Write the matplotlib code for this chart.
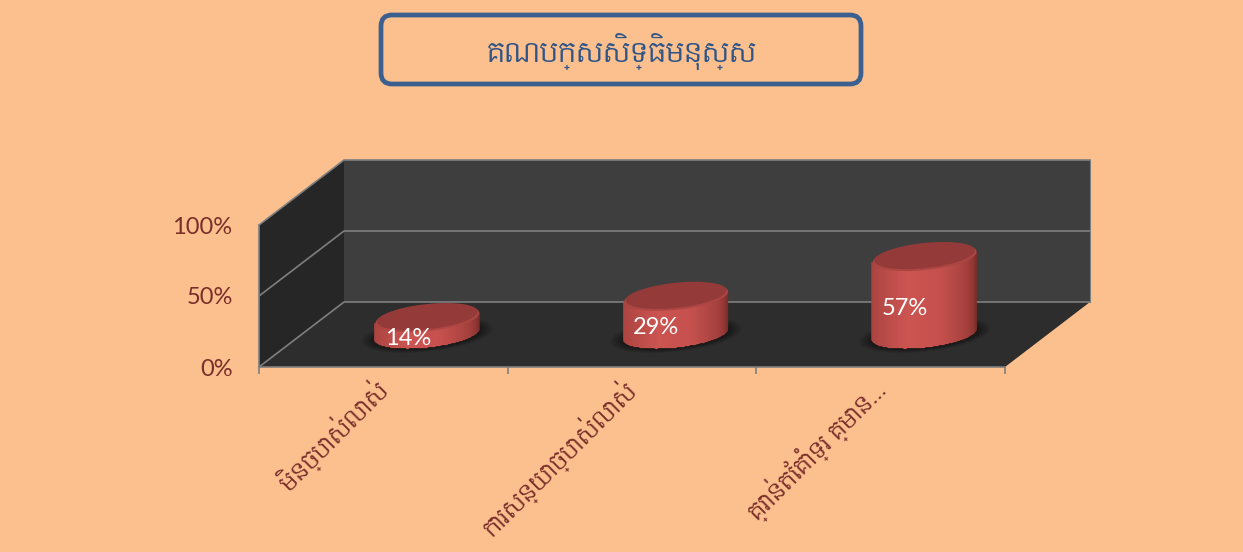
import numpy as np
import matplotlib
matplotlib.use('Agg')
import matplotlib.pyplot as plt
from matplotlib.colors import LinearSegmentedColormap
from matplotlib.patches import FancyBboxPatch
from matplotlib.transforms import IdentityTransform

title = 'គណបក្សសិទ្ធិមនុស្ស'
categories = ['មិនច្បាស់លាស់', 'ការសន្យាច្បាស់លាស់', 'គ្រាន់តែគាំទ្រ គ្មាន...']
values = [14, 29, 57]
y_ticks = [0, 50, 100]

plt.rcParams['font.family'] = ['Lato', 'DejaVu Sans']
KHMER = ['Content', 'DejaVu Sans']

W, H = 1243, 552
BG = '#FBC08E'
TEXT_RED = '#7A2E2A'
GRID = '#7F7F7F'

fig = plt.figure(figsize=(W / 100, H / 100), dpi=100, facecolor=BG)
# axes = front plane of the 3d box, in pixels from the reference
ax = fig.add_axes([259 / W, (H - 367) / H, 746 / W, 142 / H])
ax.set_xlim(-0.5, 2.5)
ax.set_ylim(0, 100)
ax.patch.set_visible(False)

# data units per pixel
px_x = 3 / 746
px_y = 100 / 142
depth_x = 85 * px_x
depth_y = 65 * px_y
x0, x1 = -0.5, 2.5

# walls and floor
ax.fill([x0, x0 + depth_x, x0 + depth_x, x0], [0, depth_y, 100 + depth_y, 100],
        color='#262626', clip_on=False, zorder=1, lw=0)
ax.fill([x0 + depth_x, x1 + depth_x, x1 + depth_x, x0 + depth_x],
        [depth_y, depth_y, 100 + depth_y, 100 + depth_y],
        color='#3E3E3E', clip_on=False, zorder=1, lw=0)
ax.fill([x0, x1, x1 + depth_x, x0 + depth_x], [0, 0, depth_y, depth_y],
        color='#2D2D2D', clip_on=False, zorder=1, lw=0)

# gridlines round the walls
for t in y_ticks:
    ax.plot([x0, x0 + depth_x, x1 + depth_x], [t, t + depth_y, t + depth_y],
            color=GRID, lw=1.2, clip_on=False, zorder=2)
ax.plot([x1 + depth_x, x1 + depth_x], [depth_y, 100 + depth_y], color=GRID, lw=0.8,
        clip_on=False, zorder=2)

# cylinders
body_cmap = LinearSegmentedColormap.from_list(
    'body', ['#A8423F', '#B54946', '#CC5451', '#C5504D', '#A5413E', '#7D2E2C'])
half_w = 52 * px_x
half_h = 13 * px_y
slope = 0.1 * (px_y / px_x)
lid_drop = 3 * px_y


def ell_y(dx, cy, sign, scale=1.0):
    inner = np.clip(1 - (dx / (half_w * scale)) ** 2, 0, 1)
    return cy + slope * dx + sign * half_h * scale * np.sqrt(inner)


for i, v in enumerate(values):
    cx = i + depth_x / 2 + 1 * px_x
    cy = depth_y / 2
    lid = cy + v - lid_drop

    # soft shadow on the floor
    for k in np.linspace(1.28, 1.0, 12):
        t = np.linspace(-half_w * k, half_w * k, 80)
        ax.fill_between(cx + t, ell_y(t, cy, -1, k), ell_y(t, cy, 1, k),
                        color='black', alpha=0.04, lw=0, zorder=3, clip_on=False)

    # side of the cylinder, shaded left to right
    t = half_w * np.sin(np.linspace(-np.pi / 2, np.pi / 2, 121))
    bottom = ell_y(t, cy, -1)
    top = ell_y(t, lid, -1)
    X = np.column_stack([cx + t, cx + t])
    Y = np.column_stack([bottom, top])
    C = np.linspace(0, 1, 120)[:, None]
    ax.pcolormesh(X, Y, C, cmap=body_cmap, shading='flat', zorder=4, clip_on=False,
                  rasterized=True, antialiased=True, edgecolors='face', linewidth=0.2)

    # lid with a lighter rim
    t = np.linspace(-half_w, half_w, 200)
    ax.fill_between(cx + t, ell_y(t, lid, -1), ell_y(t, lid, 1),
                    color='#AC4643', lw=0, zorder=5, clip_on=False)
    t2 = np.linspace(-half_w * 0.97, half_w * 0.97, 200)
    ax.fill_between(cx + t2, ell_y(t2, lid + 1.5 * px_y, -1, 0.97), ell_y(t2, lid + 1.5 * px_y, 1, 0.97),
                    color='#943B39', lw=0, zorder=6, clip_on=False)

    # data label
    ax.text(cx - 19 * px_x, cy + v / 2 - 14 * px_y, f'{v}%', color='white', fontsize=17,
            ha='center', va='center', zorder=7, clip_on=False)

# axis lines, ticks and tick labels
for side in ['top', 'right']:
    ax.spines[side].set_visible(False)
for side in ['left', 'bottom']:
    ax.spines[side].set_color(GRID)
    ax.spines[side].set_linewidth(1.2)
    ax.spines[side].set_zorder(3)

ax.set_yticks(y_ticks)
ax.set_yticklabels([f'{t}%' for t in y_ticks], color=TEXT_RED, fontsize=17)
ax.tick_params(axis='y', length=0, pad=19)
ax.set_xticks([-0.5, 0.5, 1.5, 2.5])
ax.set_xticklabels([])
ax.tick_params(axis='x', which='major', length=5, width=1.2, color=GRID)
ax.set_xticks(range(len(categories)), minor=True)
ax.set_xticklabels(categories, minor=True, rotation=45, ha='right', va='center',
                   rotation_mode='anchor', color=TEXT_RED, fontsize=16, family=KHMER)
ax.tick_params(axis='x', which='minor', length=0, pad=13)

# title box in pixel coordinates
box = FancyBboxPatch((381, H - 84), 480, 69, boxstyle='round,pad=0,rounding_size=11',
                     transform=IdentityTransform(), fc='none', ec='#3B6090', lw=3.4)
fig.add_artist(box)
fig.text(622 / W, (H - 52) / H, title, color='#2F5487', fontsize=19, ha='center', va='center',
         family=KHMER)

fig.savefig('out.png', dpi=100, facecolor=BG)
